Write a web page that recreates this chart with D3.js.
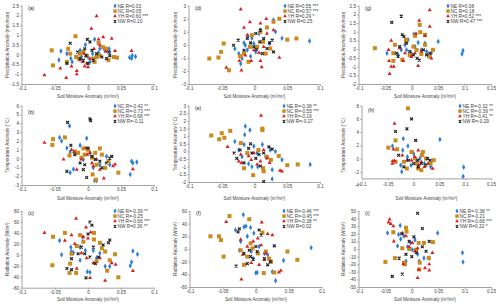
<!DOCTYPE html>
<html>
<head>
<meta charset="utf-8">
<script src="https://cdn.jsdelivr.net/npm/d3@7"></script>
<style>
  body { margin: 0; background: #fff; }
  svg { font-family: "Liberation Sans", Arial, sans-serif; }
  .tick text { fill: #404040; }
</style>
</head>
<body>
<svg id="chart" width="500" height="307"></svg>
<script>
// ---- text ----
var xTitle = "Soil Moisture Anomaly (m\u00b3/m\u00b3)";
var yTitles = ["Precipitation Anomaly (mm/mon)", "Temperature  Anomaly (\u00b0C)", "Radiation Anomaly (W/m\u00b2)"];
var regions = ["NE", "NC", "YH", "NW"];

var legA = ["NE R=0.03", "NC R=0.05", "YH R=0.60 ***", "NW R=0.10"];
var legB = ["NC R=-0.42 **", "NC R=-0.73 ***", "YH R=-0.68 ***", "NW R=-0.11"];
var legC = ["NE R=-0.39 **", "NC R=-0.25", "YH R=-0.66 ***", "NW R=0.36 **"];
var legD = ["NE R=0.55 ***", "NC R=0.57 ***", "YH R=0.29 *", "NW R=0.25"];
var legE = ["NE R=-0.38 **", "NC R=-0.55 ***", "YH R=-0.19", "NW R=-0.27"];
var legF = ["NE R=-0.46 ***", "NC R=-0.45 ***", "YH R=-0.38 **", "NW R=0.02"];
var legG = ["NE R=0.08", "NC R=0.18", "YH R=0.52 ***", "NW R=0.47 ***"];
var legH = ["NE R=-0.32 **", "NC R=-0.39 **", "YH R=-0.41 **", "NW R=-0.29"];
var legI = ["NE R=-0.38 **", "NC R=-0.21", "YH R=-0.68 ***", "NW R=0.32 *"];

// ---- ticks ----
var xTicks12 = [-0.1, -0.05, 0, 0.05, 0.1];
var xTicks3 = [-0.1, -0.05, 0, 0.05, 0.1, 0.15];
var yTicksA = [-1.5, -1, -0.5, 0, 0.5, 1, 1.5, 2, 2.5];
var yTicksB = [-3, -2, -1, 0, 1, 2, 3, 4, 5, 6];
var yTicksC = [-60, -40, -20, 0, 20, 40, 60, 80];
var yTicksD = [-3, -2, -1, 0, 1, 2, 3];
var yTicksE = [-2, -1.5, -1, -0.5, 0, 0.5, 1, 1.5, 2, 2.5, 3];
var yTicksF = [-60, -40, -20, 0, 20, 40, 60];
var yTicksG = [-2, -1.5, -1, -0.5, 0, 0.5, 1, 1.5, 2, 2.5];
var yTicksH = [-4, -2, 0, 2, 4, 6, 8];
var yTicksI = [-50, -40, -30, -20, -10, 0, 10, 20, 30, 40, 50];

// ---- data: [soil moisture anomaly, anomaly] ----
// (a) precipitation, column 1
var aNE = [[0.063,-0.15],[0.066,-0.2],[0.067,-0.05],[0.072,-0.1],[-0.041,0.18],[-0.044,-0.28],[-0.032,0.05],[-0.026,-0.2],[-0.024,-0.37],[-0.012,0.22],[-0.004,0.5],[0.007,0.05],[0.01,0.78],[0.018,0.3],[0.032,0.3],[0.033,0.13],[0,-0.12],[0.016,0.1],[-0.01,-0.1],[0.003,-0.37],[0.025,0.25]];
var aNC = [[-0.019,0.94],[-0.055,0.22],[-0.053,-0.55],[-0.03,0.3],[-0.032,-0.37],[-0.027,0.05],[-0.018,-0.12],[-0.012,0.05],[-0.007,0.15],[-0.002,-0.05],[0.01,-0.37],[0.016,0.6],[0.018,-0.05],[0.023,0.38],[0.028,0.3],[0.031,-0.28],[0.039,-0.12],[0.044,-0.15],[0.013,-0.12],[-0.014,-0.2],[0.008,-0.2]];
var aYH = [[-0.066,-1.05],[-0.033,-1.18],[-0.042,-0.7],[-0.025,-0.6],[-0.017,-0.83],[-0.017,-1.0],[0.013,1.97],[0.005,1.33],[0.016,0.78],[0.023,0.9],[0.036,0.82],[0.041,0.2],[0.066,0.2],[-0.006,0.05],[-0.002,-0.45],[-0.005,-0.6],[-0.012,-0.28],[0.003,-0.2],[0.009,0.3],[0.018,0.48],[0.027,0.15],[0,-0.63],[-0.008,-0.37]];
var aNW = [[-0.027,0.58],[-0.001,0.78],[0.003,0.65],[-0.012,-0.2],[-0.007,-0.28],[-0.016,0.13],[-0.005,0.3],[-0.003,-0.05],[0.006,0.22],[0.013,0.05],[0.021,-0.12],[0.028,-0.2],[0.031,0.13],[0.033,-0.05],[-0.032,-0.45],[0.008,-0.28],[0,-0.45]];

// (b) temperature, column 1
var bNE = [[-0.028,3.7],[-0.043,2.4],[-0.04,2.0],[-0.032,1.2],[-0.027,0.75],[-0.002,2.3],[-0.012,1.5],[0.003,0.65],[0.008,-1.05],[0.01,-2.5],[0.013,-2.5],[0.018,-0.7],[0.028,0.25],[0.033,-0.7],[0.064,-1.8],[0.066,-0.3],[0.068,-0.5],[0.074,-0.4],[-0.027,-1.6],[-0.022,-1.2],[-0.007,-0.1]];
var bNC = [[-0.053,2.2],[-0.054,1.55],[-0.035,2.4],[-0.028,0.35],[-0.02,0.8],[-0.015,0.65],[-0.007,1.15],[-0.005,0.45],[0,1.0],[0.006,0.1],[0.013,-0.7],[0.018,1.15],[0.021,0.45],[0.026,-1.05],[0.031,-0.3],[0.046,-1.6],[0.007,-1.8],[0.012,-2.4],[-0.01,0.1],[0.011,0.65]];
var bYH = [[-0.066,1.8],[-0.037,-0.1],[-0.025,1.0],[-0.021,0.75],[-0.017,-1.25],[-0.01,-0.1],[-0.003,1.2],[-0.001,0.45],[0.006,-0.5],[0.008,-0.85],[0.018,-1.25],[0.024,-2.25],[0.038,-0.85],[0.041,-0.65],[0.068,-1.2],[0.003,0.65],[0.013,-0.1]];
var bNW = [[-0.031,4.1],[0.003,4.5],[0.004,4.3],[-0.032,-1.45],[-0.026,1.5],[-0.02,0.45],[-0.012,-0.5],[-0.005,-0.7],[-0.002,-2.15],[0,1.2],[0.006,0.25],[0.011,-0.1],[0.018,-0.3],[0.028,-0.5],[0.033,0.05],[0.036,0.25],[0.021,-1.05],[-0.007,-1.25]];

// (c) radiation, column 1
var cNE = [[0.068,7],[0.075,1],[0.066,-13],[0.064,-20],[-0.043,26],[-0.04,0],[-0.026,14],[-0.022,4],[-0.025,6],[-0.012,14],[-0.008,32],[-0.004,8],[-0.001,-31],[0.003,-32],[0.013,-6],[0.018,3],[0.026,-21],[0.033,-21],[0.008,8],[-0.012,-10]];
var cNC = [[-0.053,33],[-0.054,-19],[-0.035,40],[-0.028,-33],[-0.027,-16],[-0.025,2],[-0.018,-33],[-0.012,36],[-0.007,24],[0.009,40],[0.009,28],[0.018,22],[0.021,12],[0.026,6],[0.029,-29],[0.033,-10],[0.041,1],[0.046,-41],[-0.017,16],[0.013,-12]];
var cYH = [[-0.066,40],[-0.018,66],[-0.003,50],[-0.02,20],[-0.035,26],[-0.025,36],[-0.007,33],[0,30],[0.004,41],[-0.017,-25],[0.003,-42],[0.026,-47],[0.042,-18],[0.036,-15],[0.068,-29],[-0.002,-6],[0.008,-15],[0.018,-6],[-0.01,3]];
var cNW = [[0.003,60],[0.006,54],[0.033,27],[0.031,22],[0.023,18],[-0.032,-25],[-0.025,-27],[-0.01,14],[-0.005,2],[-0.003,-42],[0.003,-4],[0.011,-16],[0.016,-4],[-0.025,-7],[-0.015,2],[0.008,14],[0,38]];

// (d) precipitation, column 2
var dNE = [[0.084,0.3],[0.042,0.5],[0.029,1.9],[0.032,1.0],[-0.01,0.67],[-0.016,0.15],[-0.03,-0.3],[-0.024,-0.67],[-0.019,-1.05],[-0.021,-1.45],[-0.011,-0.4],[-0.006,-0.87],[0.002,-0.55],[0.007,0.87],[0.014,0.36],[0.023,0.1],[-0.001,0.1],[-0.004,0.5],[0.009,1.13],[-0.014,-0.03]];
var dNC = [[-0.069,-1.05],[-0.055,-0.97],[-0.051,-0.54],[-0.047,0.1],[-0.039,-1.95],[0.038,2.0],[0.05,0.4],[0.064,0.49],[0.029,1.77],[0.019,1.33],[0.009,1.0],[0.013,0.23],[0.004,-0.15],[-0.004,0.74],[-0.016,-0.67],[-0.009,-1.3],[0.017,-0.67],[0.024,-0.28],[-0.022,-0.87],[-0.007,-0.15]];
var dYH = [[-0.021,2.72],[-0.007,1.75],[-0.016,1.33],[0.018,2.0],[0.009,1.64],[-0.043,-1.74],[-0.02,-1.95],[-0.023,-1.23],[-0.005,-1.23],[0.009,-1.23],[0.011,-1.7],[0.038,-0.97],[0.029,1.13],[0.019,0.87],[-0.001,-0.41],[0.007,-0.62],[0.014,-0.15],[-0.014,-0.8],[-0.011,0.74]];
var dNW = [[-0.025,0.36],[-0.032,-0.03],[-0.011,0.49],[-0.006,0.15],[-0.001,-0.15],[0.003,-0.36],[0.008,0.23],[0.014,0.49],[0.023,0.15],[0.027,0.36],[0.029,-0.54],[0.009,1.13],[0.012,-0.67],[0.019,-0.28],[-0.016,-0.41],[0.002,0.87]];

// (e) temperature, column 2
var eNE = [[0.085,-0.85],[0.042,-0.55],[0.027,-1.2],[0.027,-1.8],[-0.014,1.65],[-0.015,1.1],[-0.007,1.4],[-0.016,0.45],[-0.03,0.65],[-0.024,0.1],[-0.019,-0.35],[-0.009,-0.8],[-0.004,-1.0],[0.004,-0.1],[0.012,0.45],[0.017,-0.35],[0.024,0.1],[0.032,0],[-0.001,0.35],[0.005,-1.0]];
var eNC = [[-0.066,1.05],[-0.054,0.8],[-0.05,1.2],[-0.046,0.9],[-0.037,1.35],[-0.002,-1.55],[0.012,1.5],[0.012,1.4],[0.037,-0.3],[0.05,-0.9],[0.066,-0.85],[0.014,-1.3],[0.013,-1.1],[0.019,-0.35],[0.025,-0.55],[-0.021,0.55],[-0.011,-0.1],[0.006,0.1],[-0.016,-1.1]];
var eYH = [[0.01,2.35],[-0.041,0.3],[-0.021,-0.2],[-0.02,-0.75],[-0.009,-0.3],[-0.005,-0.55],[0.004,-0.85],[0.009,-0.65],[0.019,-0.45],[0.023,-0.75],[0.039,-1.25],[0.042,-1.3],[-0.001,-0.1],[0.014,0.1],[-0.024,-0.65]];
var eNW = [[0.014,-1.97],[-0.027,-0.45],[-0.022,0.1],[-0.009,0.2],[-0.004,-0.1],[0.002,-0.45],[0.007,-0.2],[0.014,-0.1],[0.022,0.3],[0.027,0.15],[-0.016,-0.75],[0.009,-0.95],[-0.006,0.5],[-0.031,-0.1]];

// (f) radiation, column 2
var fNE = [[-0.019,54],[0.084,2],[0.042,-18],[0.03,-50],[0.025,-36],[-0.031,30],[-0.018,35],[-0.015,36],[-0.008,34],[-0.023,12],[-0.007,-4],[-0.004,-15],[0,-38],[0.002,-37],[0.005,4],[0.013,-7],[0.018,-9],[-0.013,20],[-0.025,-2],[-0.003,25]];
var fNC = [[-0.04,52],[-0.069,20],[-0.056,20],[-0.053,14],[-0.049,-12],[-0.01,47],[0.01,26],[0.012,-38],[0.028,-37],[0.048,-4],[0.063,-17],[-0.018,-25],[-0.013,-12],[-0.005,1],[0.003,-7],[0.015,-4],[0.02,-15],[0.023,-20],[-0.008,9],[-0.023,-2]];
var fYH = [[-0.045,43],[-0.022,-48],[0.009,42],[0.038,-34],[0.035,-37],[-0.023,15],[-0.02,-9],[-0.013,4],[-0.007,-22],[0.003,17],[0.008,6],[0.015,-7],[0.018,24],[0.025,22],[0.013,-17],[-0.004,12],[0.005,-25]];
var fNW = [[-0.03,-27],[-0.025,32],[-0.027,27],[0.005,30],[0.008,22],[0.028,5],[0.022,-20],[-0.018,-7],[-0.01,-2],[-0.004,-16],[0.002,-4],[0.013,-15],[0.018,-25],[-0.013,-23],[0,4],[-0.008,-12]];

// (g) precipitation, column 3
var gNE = [[0.097,-0.08],[0.095,-0.28],[0.05,0.44],[0.004,0.86],[-0.047,-0.23],[-0.026,-0.33],[-0.02,-0.04],[-0.013,0.25],[-0.007,0.54],[0.006,0.15],[0.012,0.38],[0.018,-0.04],[0.028,-0.13],[0.037,-0.23],[-0.001,-0.23],[-0.01,-0.04],[0.025,0.34]];
var gNC = [[-0.07,0.06],[-0.035,-0.23],[-0.035,-0.67],[-0.032,0.25],[-0.011,0.54],[-0.011,0.44],[0.015,1.4],[0.016,0.98],[0.006,0.77],[0.025,0.83],[0.025,0.25],[0.04,-0.04],[0.033,-0.42],[0.009,-0.04],[-0.018,-0.6],[-0.004,-0.33],[0.018,-0.28],[0.003,0.15]];
var gYH = [[0.034,2.25],[0.034,1.3],[0.014,1.64],[0.025,0.77],[0.008,0.9],[-0.039,0.5],[-0.044,-0.04],[-0.042,-1.42],[-0.039,-1.0],[-0.034,-1.0],[-0.043,-0.67],[0.012,-0.96],[0.037,-0.52],[-0.016,-0.67],[-0.013,-0.23],[-0.001,-0.44],[0.006,-0.23],[0.018,-0.13],[-0.023,0.06]];
var gNW = [[-0.02,1.9],[-0.038,1.54],[-0.018,0.83],[0.014,-0.63],[-0.029,-0.23],[-0.023,0.15],[-0.004,-0.13],[0.003,-0.33],[0.01,-0.52],[0.028,-0.33],[0.034,-0.23],[-0.01,0.34],[-0.026,-0.42],[0.022,-0.04],[-0.015,0.73]];

// (h) temperature, column 3
var hNE = [[0.051,2.9],[0.097,-1.3],[0.096,-2.7],[-0.041,1.9],[-0.02,3.0],[-0.011,1.9],[-0.021,1.25],[-0.025,-1.0],[-0.023,-2.0],[-0.012,0.25],[0,0.75],[0.006,-0.5],[0.012,0],[0.021,-0.75],[0.033,-1.25],[-0.005,-1.0],[0.015,0.5]];
var hNC = [[-0.011,7.6],[-0.035,2.75],[-0.032,1.4],[-0.049,1.65],[-0.004,1.0],[0.018,1.0],[0.016,0.5],[0.033,-0.75],[0.039,-0.25],[0.009,-1.5],[0.015,-1.75],[-0.013,-1.5],[-0.019,-0.5],[0.003,0],[0.024,0],[0.006,-0.75],[-0.035,-0.5]];
var hYH = [[-0.037,5.3],[-0.039,1.4],[-0.041,-0.4],[-0.041,-0.75],[-0.037,-0.35],[-0.022,0.5],[-0.013,-0.25],[-0.004,-0.25],[0.009,1.25],[0.01,-1.0],[0.021,-1.25],[0.028,-0.75],[0.037,-1.5],[0.002,0.25],[0.015,-0.5]];
var hNW = [[-0.004,6.0],[-0.035,4.1],[-0.013,4.5],[0.004,2.75],[-0.029,0.5],[-0.01,-0.25],[0,-0.75],[0.008,-0.25],[0.015,-0.75],[0.024,-1.0],[0.032,-0.25],[-0.019,-1.25],[0.009,-1.25],[0.027,0]];

// (i) radiation, column 3
var iNE = [[-0.046,21],[0.049,21],[0.096,-5],[0.097,-17],[-0.022,31],[-0.025,19],[-0.021,13],[-0.015,17],[-0.027,4],[-0.008,3],[0.001,-1],[0.011,-7],[0.014,-16],[0.023,-12],[0.033,-12],[-0.011,-16],[-0.002,8],[0.006,12]];
var iNC = [[-0.05,-17],[-0.035,22],[-0.032,-12],[-0.011,28],[-0.01,23],[-0.015,-18],[-0.013,-20],[0.014,-27],[0.015,-18],[0.013,8],[0.023,8],[0.04,9],[0.008,-1],[-0.005,0],[0.032,-12],[-0.018,1]];
var iYH = [[-0.042,39],[-0.044,35],[-0.04,33],[-0.035,30],[-0.034,10],[-0.018,21],[-0.011,17],[0.006,-3],[0.011,1],[0.013,-27],[0.011,-38],[0.025,-25],[0.033,-28],[0.033,-20],[0.039,-5],[-0.016,-20],[-0.005,3],[0.001,8]];
var iNW = [[0.011,47],[0.02,27],[-0.037,-36],[-0.018,-33],[-0.019,20],[-0.005,10],[0.004,16],[-0.011,-7],[0,-10],[0.009,-5],[0.027,-3],[0.033,10],[-0.024,-12],[0.02,3]];

// ---- styles ----
var colors = {NE: "#2f7ed8", NC: "#c98a1e", YH: "#d92020", NW: "#222222"};
var fontSize = 4.6;

// ---- panels (pixel box of each plot area) ----
var panels = [
    {id: "(a)", l: 22,  r: 154,   t: 5.7,   b: 84,    xt: xTicks12, yt: yTicksA, row: 0, leg: legA, series: [aNE, aNC, aYH, aNW], lx: 115, ly: 6},
    {id: "(b)", l: 22,  r: 154,   t: 105.7, b: 185,   xt: xTicks12, yt: yTicksB, row: 1, leg: legB, series: [bNE, bNC, bYH, bNW], lx: 115, ly: 106, labY: 112},
    {id: "(c)", l: 22,  r: 154,   t: 211,   b: 287.7, xt: xTicks12, yt: yTicksC, row: 2, leg: legC, series: [cNE, cNC, cYH, cNW], lx: 115, ly: 211, labY: 213},
    {id: "(d)", l: 189, r: 320,   t: 5.7,   b: 84,    xt: xTicks12, yt: yTicksD, row: 0, leg: legD, series: [dNE, dNC, dYH, dNW], lx: 285, ly: 6},
    {id: "(e)", l: 189, r: 320,   t: 105.7, b: 182,   xt: xTicks12, yt: yTicksE, row: 1, leg: legE, series: [eNE, eNC, eYH, eNW], lx: 284, ly: 106},
    {id: "(f)", l: 190, r: 321.7, t: 211,   b: 287,   xt: xTicks12, yt: yTicksF, row: 2, leg: legF, series: [fNE, fNC, fYH, fNW], lx: 284, ly: 211, labY: 213},
    {id: "(g)", l: 359, r: 491,   t: 5.7,   b: 84,    xt: xTicks3,  yt: yTicksG, row: 0, leg: legG, series: [gNE, gNC, gYH, gNW], lx: 448, ly: 6},
    {id: "(h)", l: 362, r: 491,   t: 105.7, b: 185,   xt: xTicks3,  yt: yTicksH, row: 1, leg: legH, series: [hNE, hNC, hYH, hNW], lx: 460, ly: 106, cross: -3, labY: 110},
    {id: "(i)", l: 359, r: 491,   t: 211,   b: 287,   xt: xTicks3,  yt: yTicksI, row: 2, leg: legI, series: [iNE, iNC, iYH, iNW], lx: 457, ly: 211, labY: 213}
];
var yTitleX = [7, 175, 343];
var xTitleY = [96.5, 198, 299.5];

var svg = d3.select("#chart");

// marker symbols for each region
function drawMarker(g, region, x, y, s) {
    s = s || 1;
    if (region == "NE") {
        g.append("path").attr("d", d3.symbol(d3.symbolDiamond, 9 * s)()).attr("transform", "translate(" + x + "," + y + ")")
            .attr("fill", colors.NE);
    } else if (region == "NC") {
        g.append("rect").attr("x", x - 2 * s).attr("y", y - 2 * s).attr("width", 4 * s).attr("height", 4 * s)
            .attr("fill", colors.NC);
    } else if (region == "YH") {
        g.append("path").attr("d", d3.symbol(d3.symbolTriangle, 7 * s)()).attr("transform", "translate(" + x + "," + y + ")")
            .attr("fill", colors.YH);
    } else {
        var h = 1.4 * s;
        g.append("path").attr("d", "M" + (x - h) + "," + (y - h) + "L" + (x + h) + "," + (y + h) + "M" + (x - h) + "," + (y + h) + "L" + (x + h) + "," + (y - h))
            .attr("stroke", colors.NW).attr("stroke-width", 1.2).attr("fill", "none");
    }
}

panels.forEach(function(p) {
    var xScale = d3.scaleLinear().domain(d3.extent(p.xt)).range([p.l, p.r]);
    var yScale = d3.scaleLinear().domain(d3.extent(p.yt)).range([p.b, p.t]);
    var cross = (p.cross !== undefined) ? p.cross : d3.min(p.yt);
    var g = svg.append("g");

    // x axis
    var xAxis = g.append("g")
        .attr("transform", "translate(0," + yScale(cross) + ")")
        .call(d3.axisBottom(xScale).tickValues(p.xt).tickSize(2).tickSizeOuter(0).tickPadding(1).tickFormat(function(d) { return String(d); }));
    // y axis
    var yAxis = g.append("g")
        .attr("transform", "translate(" + p.l + ",0)")
        .call(d3.axisLeft(yScale).tickValues(p.yt).tickSize(2).tickSizeOuter(0).tickPadding(1).tickFormat(function(d) { return String(d); }));
    yAxis.select(".domain").remove();
    g.append("line").attr("x1", p.l).attr("x2", p.l).attr("y1", yScale(d3.max(p.yt))).attr("y2", yScale(cross))
        .attr("stroke", "#8c8c8c").attr("stroke-width", 0.8);

    [xAxis, yAxis].forEach(function(a) {
        a.selectAll(".domain").attr("stroke", "#8c8c8c").attr("stroke-width", 0.8);
        a.selectAll(".tick line").attr("stroke", "#8c8c8c").attr("stroke-width", 0.6);
        a.selectAll("text").attr("font-size", fontSize).attr("font-family", null).attr("fill", "#404040");
    });
    if (p.cross !== undefined) {
        // tick labels stay at the bottom of the value range
        xAxis.selectAll(".tick text").attr("y", yScale(d3.min(p.yt)) - yScale(cross) - 2);
    }

    // points
    var pts = g.append("g");
    p.series.forEach(function(s, i) {
        s.forEach(function(d) {
            drawMarker(pts, regions[i], xScale(d[0]), yScale(d[1]));
        });
    });

    // legend
    var lg = g.append("g");
    p.leg.forEach(function(t, i) {
        var yy = p.ly + i * 5.1;
        drawMarker(lg, regions[i], p.lx, yy, 0.85);
        lg.append("text").attr("x", p.lx + 2.5).attr("y", yy).attr("dy", "0.35em")
            .attr("font-size", 4.8).attr("fill", "#404040").text(t);
    });

    // panel label
    g.append("text").attr("x", p.l + 6).attr("y", p.labY || (p.t + 2)).attr("dy", "0.35em")
        .attr("font-size", 5.2).attr("fill", "#222").text(p.id);

    // axis titles
    g.append("text").attr("x", (p.l + p.r) / 2).attr("y", xTitleY[p.row]).attr("dy", "0.35em")
        .attr("text-anchor", "middle").attr("font-size", fontSize).attr("fill", "#404040").text(xTitle);
    var col = p.l < 170 ? 0 : (p.l < 340 ? 1 : 2);
    g.append("text").attr("transform", "translate(" + yTitleX[col] + "," + ((p.t + p.b) / 2) + ") rotate(-90)")
        .attr("dy", "0.35em").attr("text-anchor", "middle").attr("font-size", fontSize).attr("fill", "#404040")
        .text(yTitles[p.row]);
});
</script>
</body>
</html>
